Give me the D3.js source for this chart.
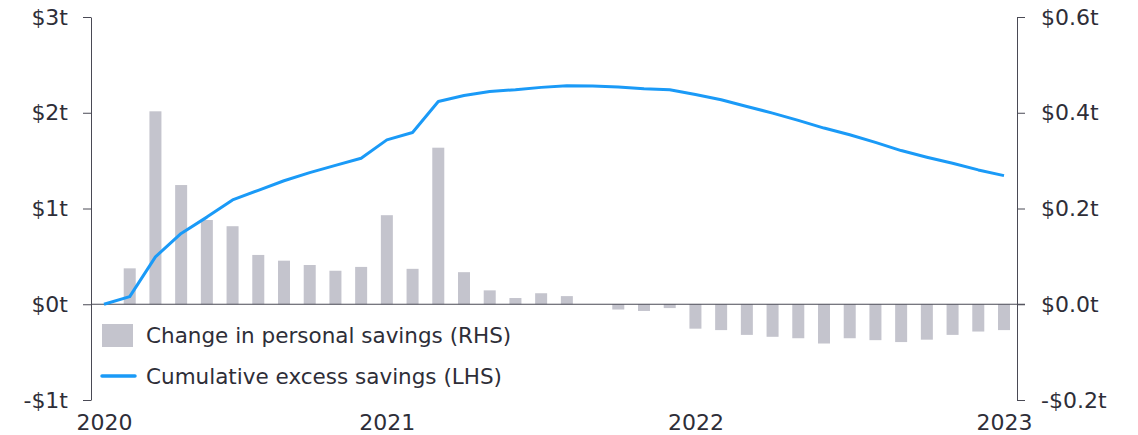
<!DOCTYPE html>
<html>
<head>
<meta charset="utf-8">
<script src="https://cdn.jsdelivr.net/npm/d3@7"></script>
<style>
  body { margin: 0; background: #fff; }
  .chart text { font-family: "DejaVu Sans", sans-serif; fill: #2e2e38; }
  .axis .domain, .axis line { stroke: #4a4a55; }
</style>
</head>
<body>
<svg class="chart"></svg>
<script>
// monthly, Jan 2020 .. Dec 2022
var months = d3.range(36).map(function(i) { return new Date(2020, i, 1); });

// change in personal savings, $t (right axis)
var savingsChange = [0, 0.075, 0.403, 0.249, 0.176, 0.163, 0.103, 0.091, 0.082, 0.070, 0.078, 0.186,
	0.074, 0.327, 0.067, 0.029, 0.013, 0.023, 0.017, 0, -0.011, -0.014, -0.008, -0.051,
	-0.054, -0.064, -0.068, -0.071, -0.082, -0.071, -0.075, -0.079, -0.074, -0.064, -0.057, -0.054];

// cumulative excess savings, $t (left axis)
var excessSavings = [0, 0.08, 0.495, 0.74, 0.91, 1.09, 1.19, 1.29, 1.375, 1.45, 1.525, 1.717,
	1.794, 2.118, 2.18, 2.223, 2.24, 2.265, 2.283, 2.28, 2.27, 2.25, 2.24, 2.19,
	2.136, 2.066, 1.996, 1.92, 1.84, 1.77, 1.69, 1.605, 1.536, 1.473, 1.403, 1.343];

var leftTicks = [-1, 0, 1, 2, 3];
var rightTicks = [-0.2, 0, 0.2, 0.4, 0.6];
var xTickIndex = [0, 11, 23, 35];
var xTickLabels = ['2020', '2021', '2022', '2023'];
var legendLabels = ['Change in personal savings (RHS)', 'Cumulative excess savings (LHS)'];

var width = 1138, height = 435;
var plotLeft = 91, plotRight = 1017;

var chart = d3.select('.chart')
	.attr('width', width)
	.attr('height', height);

var x = d3.scaleLinear().domain([0, 35]).range([104, 1004]),
	yL = d3.scaleLinear().domain([-1, 3]).range([400, 17]),
	yR = d3.scaleLinear().domain([-0.2, 0.6]).range([400, 17]);

var barW = 12;

function money(d, digits) {
	return (d < 0 ? '-' : '') + '$' + Math.abs(d).toFixed(digits) + 't';
}

// left axis
var gl = chart.append('g')
	.attr('class', 'axis')
	.attr('transform', 'translate(' + plotLeft + ',0)')
	.call(d3.axisLeft(yL).tickValues(leftTicks).tickSize(8).tickSizeOuter(0)
		.tickFormat(function(d) { return money(d, 0); }));
gl.selectAll('.tick text').attr('x', -23).style('font-size', '22px');

// right axis
var gr = chart.append('g')
	.attr('class', 'axis')
	.attr('transform', 'translate(' + plotRight + ',0)')
	.call(d3.axisRight(yR).tickValues(rightTicks).tickSize(8).tickSizeOuter(0)
		.tickFormat(function(d) { return money(d, 1); }));
gr.selectAll('.tick text').attr('x', 24).style('font-size', '22px');
gr.select('.domain').attr('stroke', '#8a8a94');
gr.selectAll('.tick line').attr('stroke', '#8a8a94');

// x labels
var gx = chart.append('g')
	.attr('class', 'axis')
	.attr('transform', 'translate(0,' + 404 + ')')
	.call(d3.axisBottom(x).tickValues(xTickIndex).tickSize(0)
		.tickFormat(function(d, i) { return xTickLabels[i]; }));
gx.select('.domain').remove();
gx.selectAll('.tick text').attr('y', 10).style('font-size', '22px');

// bars
chart.selectAll('.bar')
	.data(savingsChange)
  .enter().append('rect')
	.attr('class', 'bar')
	.attr('x', function(d, i) { return x(i) - barW / 2; })
	.attr('y', function(d) { return yR(Math.max(d, 0)); })
	.attr('width', barW)
	.attr('height', function(d) { return Math.abs(yR(d) - yR(0)); })
	.attr('fill', '#c4c4cd');

// zero line
chart.append('line')
	.attr('x1', plotLeft).attr('x2', plotRight + 8)
	.attr('y1', yL(0)).attr('y2', yL(0))
	.attr('stroke', '#4a4a55')
	.attr('stroke-width', 1.2);

// line
var line = d3.line()
	.x(function(d, i) { return x(i); })
	.y(function(d) { return yL(d); });

chart.append('path')
	.datum(excessSavings)
	.attr('fill', 'none')
	.attr('stroke', '#1a9af7')
	.attr('stroke-width', 3)
	.attr('stroke-linejoin', 'round')
	.attr('d', line);

// legend
var lg = chart.append('g');
lg.append('rect')
	.attr('x', 102).attr('y', 324).attr('width', 31).attr('height', 23)
	.attr('fill', '#c4c4cd');
lg.append('line')
	.attr('x1', 102).attr('x2', 135).attr('y1', 376).attr('y2', 376)
	.attr('stroke', '#1a9af7').attr('stroke-width', 3.5)
	.attr('stroke-linecap', 'round');
lg.selectAll('text')
	.data(legendLabels)
  .enter().append('text')
	.attr('x', 146)
	.attr('y', function(d, i) { return 343 + i * 41; })
	.style('font-size', '21.5px')
	.text(function(d) { return d; });
</script>
</body>
</html>
